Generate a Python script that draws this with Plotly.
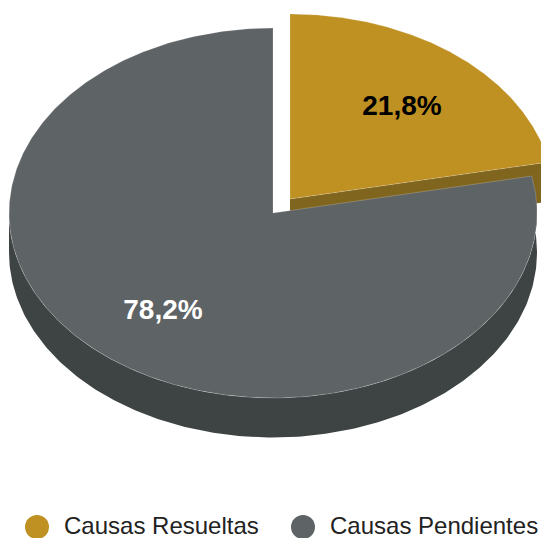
import numpy as np
import plotly.graph_objects as go

# Data
categories = ["Causas Resueltas", "Causas Pendientes"]
values = [21.8, 78.2]
labels = ["21,8%", "78,2%"]
label_colors = ["#000000", "#FFFFFF"]
top_colors = ["#BF9022", "#5E6366"]
side_colors = ["#80651F", "#3E4443"]

W, H = 541, 538
RX, RY, DEPTH = 264, 185, 39.5
centers = [(290, 199), (273, 213)]
label_pos = [(402, 108), (163, 312)]
legend_marker_x = [37, 303]
legend_text_x = [64, 330]
legend_marker_y = 527
legend_text_y = 528

total = sum(values)
sweep = [v / total * 2 * np.pi for v in values]
starts = [0.0, sweep[0]]


def arc(c, a0, a1, n=240, dy=0.0):
    t = np.linspace(a0, a1, n)
    return c[0] + RX * np.sin(t), c[1] - RY * np.cos(t) + dy


fig = go.Figure()


def poly(x, y, fill, line="rgba(0,0,0,0)", width=0):
    fig.add_trace(go.Scatter(
        x=np.append(x, x[0]), y=np.append(y, y[0]), mode="lines", fill="toself",
        fillcolor=fill, line=dict(color=line, width=width),
        hoverinfo="skip", showlegend=False))


# Resolved slice: the cut face visible below its top surface
c = centers[0]
a1 = starts[0] + sweep[0]
ex, ey = c[0] + RX * np.sin(a1), c[1] - RY * np.cos(a1)
poly(np.array([c[0], ex, ex, c[0]]),
     np.array([c[1], ey, ey + DEPTH, c[1] + DEPTH]), side_colors[0])

# Pending slice: outer wall
c = centers[1]
xa, ya = arc(c, sweep[0], np.pi * 1.5)
poly(np.concatenate([xa, xa[::-1]]),
     np.concatenate([ya, ya[::-1] + DEPTH]), side_colors[1])

# Top surfaces
for i in range(2):
    c = centers[i]
    xa, ya = arc(c, starts[i], starts[i] + sweep[i], n=480)
    poly(np.concatenate([[c[0]], xa]), np.concatenate([[c[1]], ya]),
         top_colors[i], "rgba(255,255,255,0.35)", 0.6)

# Value labels
fig.add_trace(go.Scatter(
    x=[p[0] for p in label_pos], y=[p[1] for p in label_pos], mode="text",
    text=labels, textposition="middle center",
    textfont=dict(family="Liberation Sans", size=28, color=label_colors, weight="bold"),
    hoverinfo="skip", showlegend=False))

# Legend
fig.add_trace(go.Scatter(
    x=legend_marker_x, y=[legend_marker_y] * 2, mode="markers",
    marker=dict(size=24, color=top_colors), hoverinfo="skip", showlegend=False))
fig.add_trace(go.Scatter(
    x=legend_text_x, y=[legend_text_y] * 2, mode="text", text=categories,
    textposition="middle right",
    textfont=dict(family="Liberation Sans", size=24, color="#222222"),
    hoverinfo="skip", showlegend=False))

fig.update_layout(
    width=W, height=H, margin=dict(l=0, r=0, t=0, b=0),
    paper_bgcolor="white", plot_bgcolor="white", showlegend=False,
    xaxis=dict(range=[0, W], visible=False, fixedrange=True),
    yaxis=dict(range=[H, 0], visible=False, fixedrange=True),
)
fig.write_html("out.html", config={"displayModeBar": False},
               post_script="document.body.style.margin='0';document.body.style.overflow='hidden';")
